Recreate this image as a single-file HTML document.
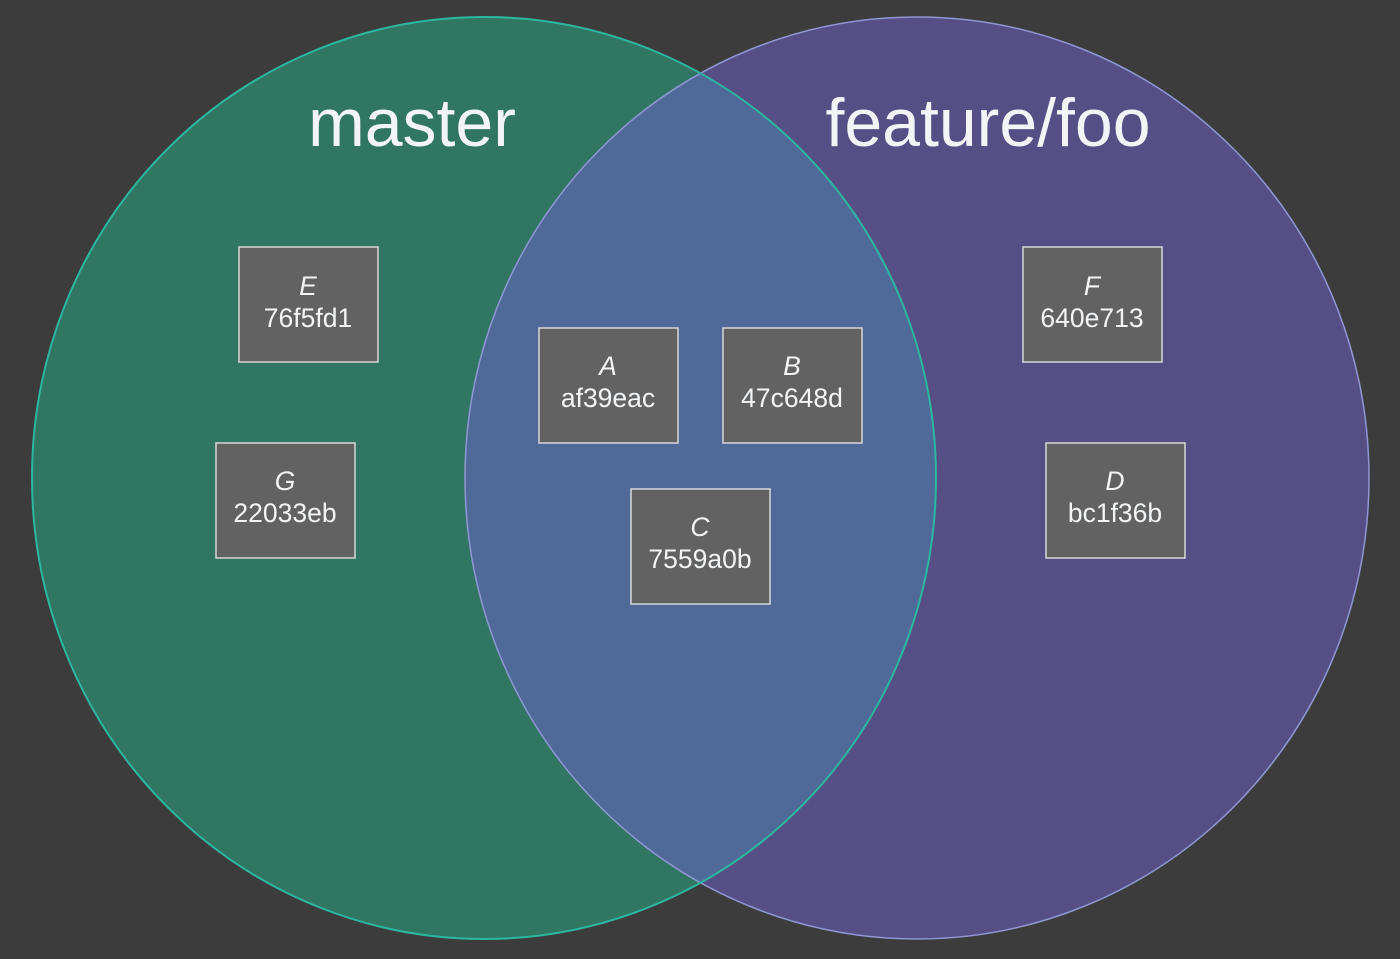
<!DOCTYPE html>
<html><head><meta charset="utf-8"><style>
html,body{margin:0;padding:0;background:#3c3c3c;}
svg{display:block;}
text{font-family:"Liberation Sans",Arial,sans-serif;fill:#f2f4f6;}
</style></head><body>
<svg width="1400" height="959" viewBox="0 0 1400 959" xmlns="http://www.w3.org/2000/svg">
<defs>
<clipPath id="cl"><ellipse cx="484" cy="478" rx="452" ry="461"/></clipPath>
</defs>
<rect width="1400" height="959" fill="#3c3c3c"/>
<ellipse cx="484" cy="478" rx="452" ry="461" fill="#317563"/>
<ellipse cx="917" cy="478" rx="452" ry="461" fill="#564f85"/>
<ellipse cx="917" cy="478" rx="452" ry="461" fill="#4f6a98" clip-path="url(#cl)"/>
<ellipse cx="917" cy="478" rx="452" ry="461" fill="none" stroke="#8f97d4" stroke-width="1.5"/>
<ellipse cx="484" cy="478" rx="452" ry="461" fill="none" stroke="#2bb7a0" stroke-width="2"/>
<text x="412" y="146" font-size="68" text-anchor="middle">master</text>
<text x="988" y="146" font-size="68" text-anchor="middle">feature/foo</text>
<g stroke="#d8d8d8" stroke-width="1.5" fill="#626262">
<rect x="239" y="247" width="139" height="115"/>
<rect x="216" y="443" width="139" height="115"/>
<rect x="539" y="328" width="139" height="115"/>
<rect x="723" y="328" width="139" height="115"/>
<rect x="631" y="489" width="139" height="115"/>
<rect x="1023" y="247" width="139" height="115"/>
<rect x="1046" y="443" width="139" height="115"/>
</g>
<g font-size="26.5" text-anchor="middle">
<text x="308" y="295" font-style="italic">E</text><text x="308" y="327">76f5fd1</text>
<text x="285" y="490" font-style="italic">G</text><text x="285" y="522">22033eb</text>
<text x="608" y="375" font-style="italic">A</text><text x="608" y="407">af39eac</text>
<text x="792" y="375" font-style="italic">B</text><text x="792" y="407">47c648d</text>
<text x="700" y="536" font-style="italic">C</text><text x="700" y="568">7559a0b</text>
<text x="1092" y="295" font-style="italic">F</text><text x="1092" y="327">640e713</text>
<text x="1115" y="490" font-style="italic">D</text><text x="1115" y="522">bc1f36b</text>
</g>
</svg>
</body></html>
